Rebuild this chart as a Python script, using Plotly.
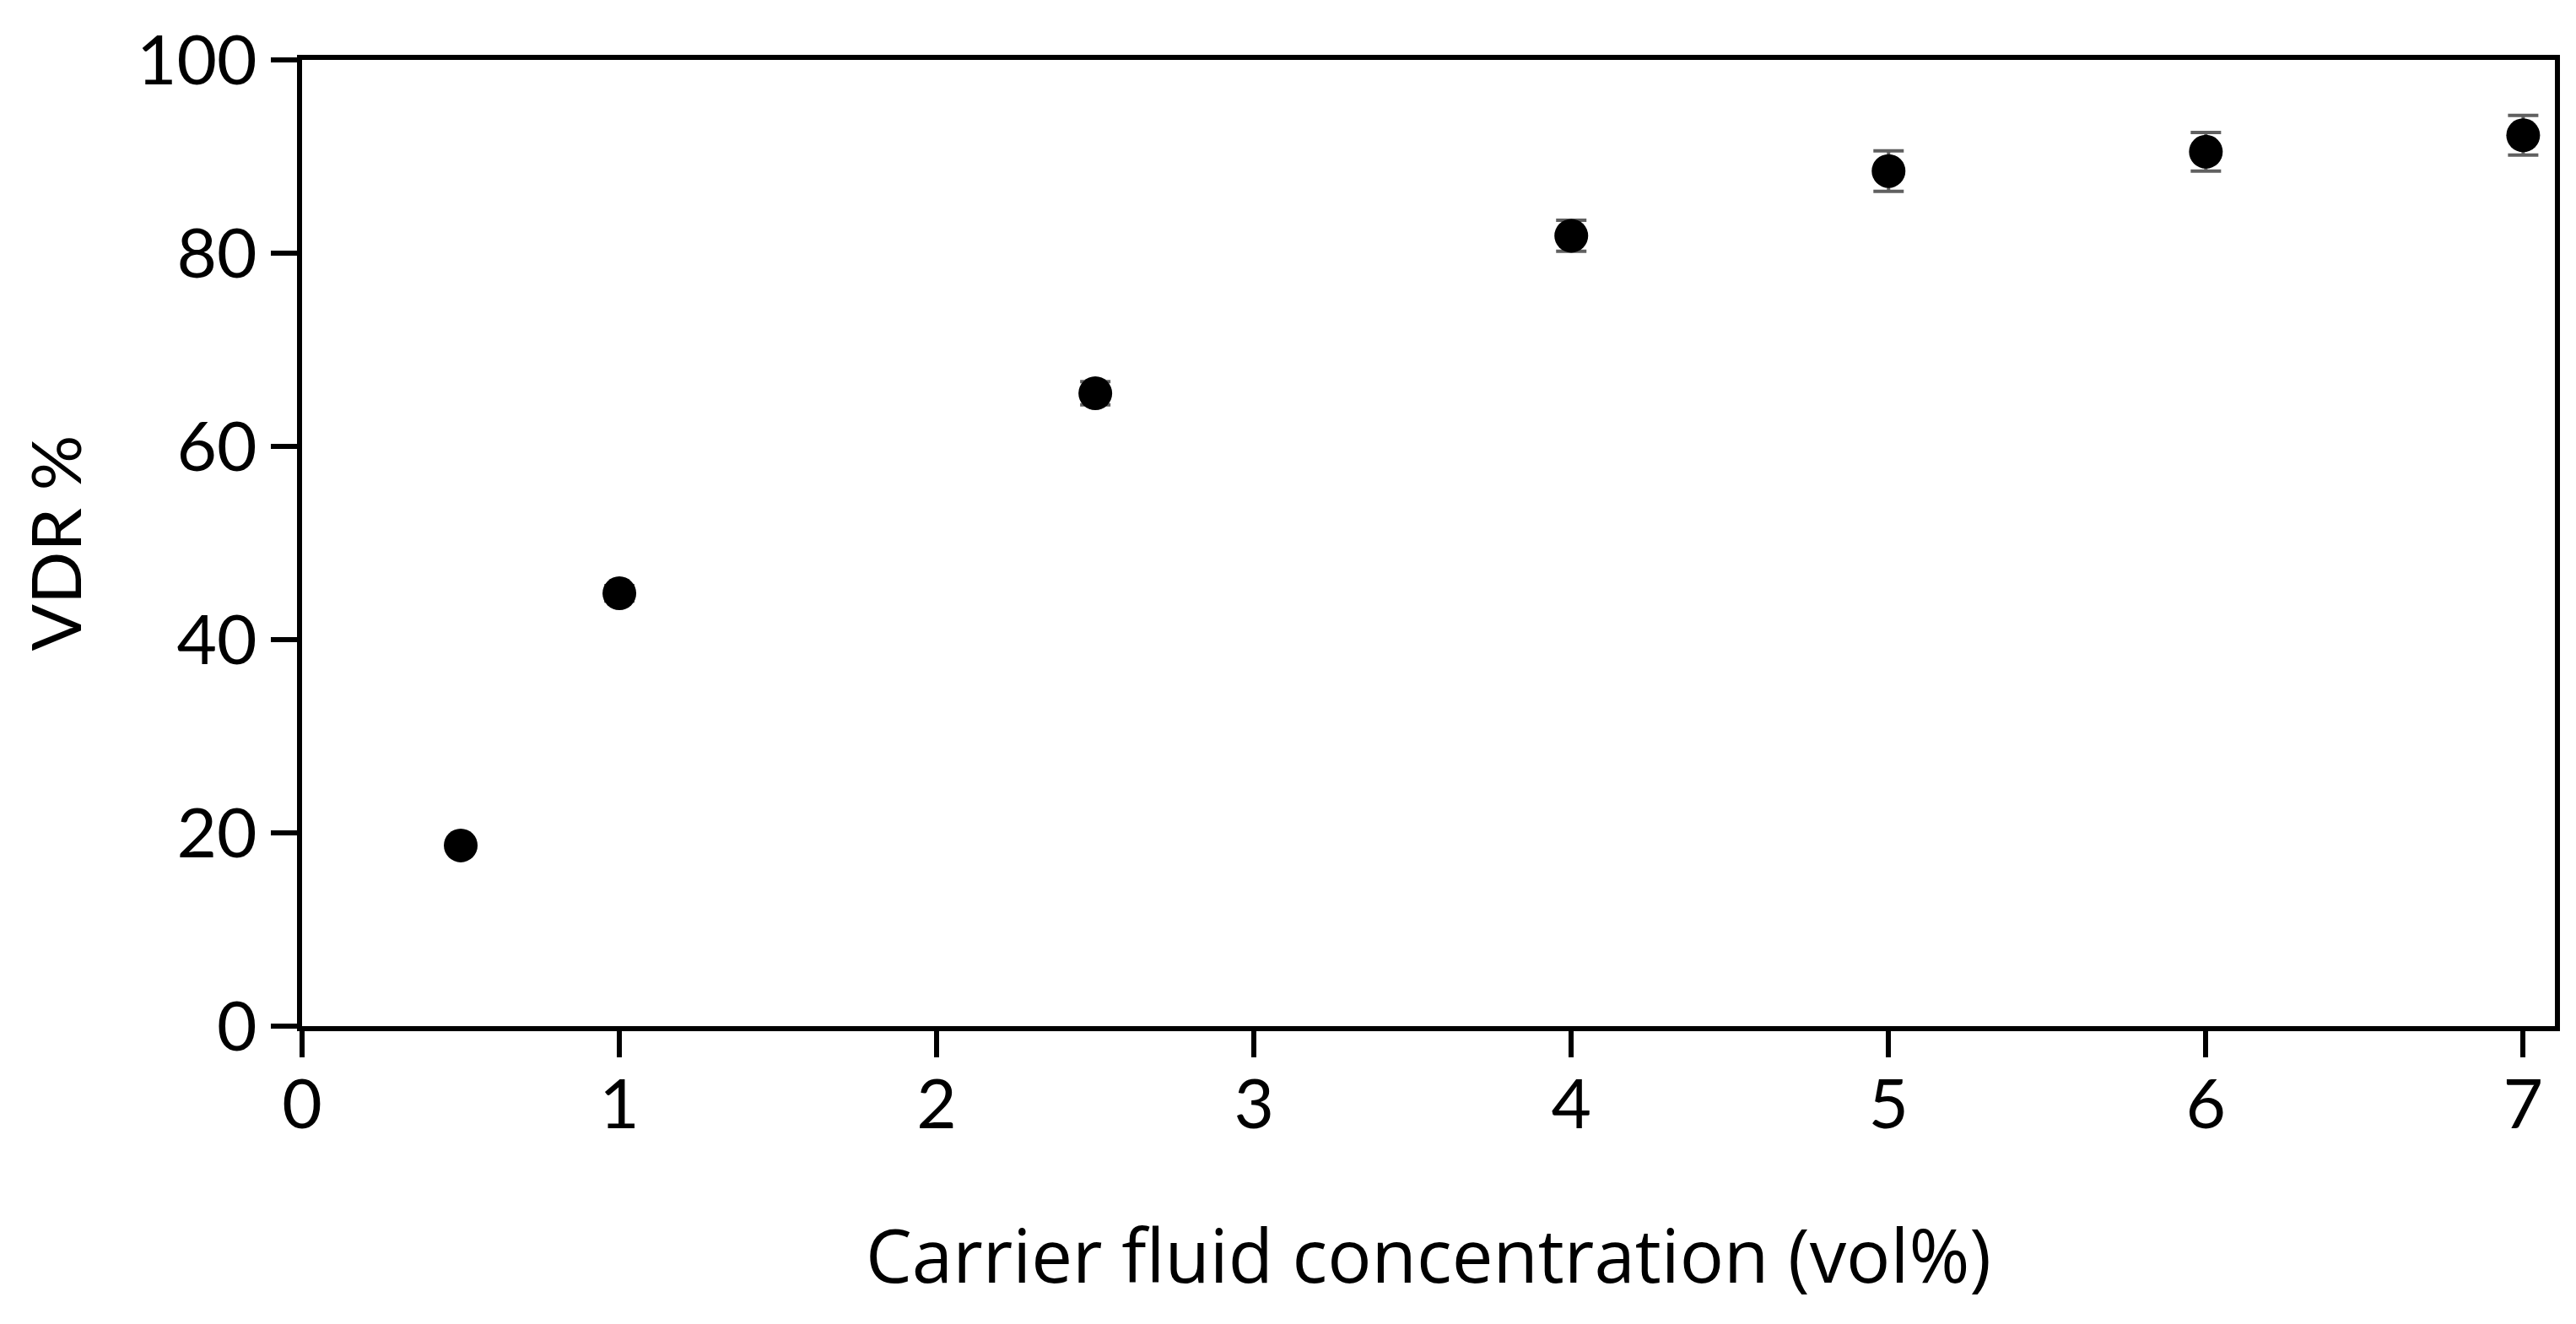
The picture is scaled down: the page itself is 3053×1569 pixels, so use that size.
import plotly.graph_objects as go

# carrier fluid concentration (vol%) and measured VDR %
conc = [0.5, 1, 2.5, 4, 5, 6, 7]
vdr = [18.7, 44.8, 65.5, 81.8, 88.5, 90.5, 92.2]
vdr_err = [0.6, 0.8, 1.2, 1.6, 2.1, 2.0, 2.05]

x_ticks = [0, 1, 2, 3, 4, 5, 6, 7]
y_ticks = [0, 20, 40, 60, 80, 100]

FONT = "Lato, 'Open Sans', sans-serif"
TITLE_FONT = "'Open Sans', Lato, sans-serif"

fig = go.Figure()
fig.add_trace(go.Scatter(
    x=conc, y=vdr,
    mode="markers",
    marker=dict(color="black", size=40),
    error_y=dict(type="data", array=vdr_err, visible=True,
                 color="#606060", thickness=4, width=18),
    showlegend=False,
))

axis_style = dict(
    showline=True, linecolor="black", linewidth=6, mirror=True,
    ticks="outside", ticklen=31, tickwidth=6, tickcolor="black",
    showgrid=False, zeroline=False,
    tickfont=dict(family=FONT, size=82, color="black"),
)

fig.update_xaxes(
    range=[0, 7.1], tickvals=x_ticks, ticklabelstandoff=-14,
    title=dict(text="Carrier fluid concentration (vol%)", standoff=108,
               font=dict(family=TITLE_FONT, size=87, color="black")),
    **axis_style,
)
fig.update_yaxes(
    range=[0, 100], tickvals=y_ticks,
    title=dict(text="VDR %", standoff=40,
               font=dict(family=FONT, size=82, color="black")),
    **axis_style,
)

fig.update_layout(
    width=3053, height=1569,
    margin=dict(l=350, r=33, t=63, b=361),
    plot_bgcolor="white", paper_bgcolor="white",
)

fig.write_html("out.html")
